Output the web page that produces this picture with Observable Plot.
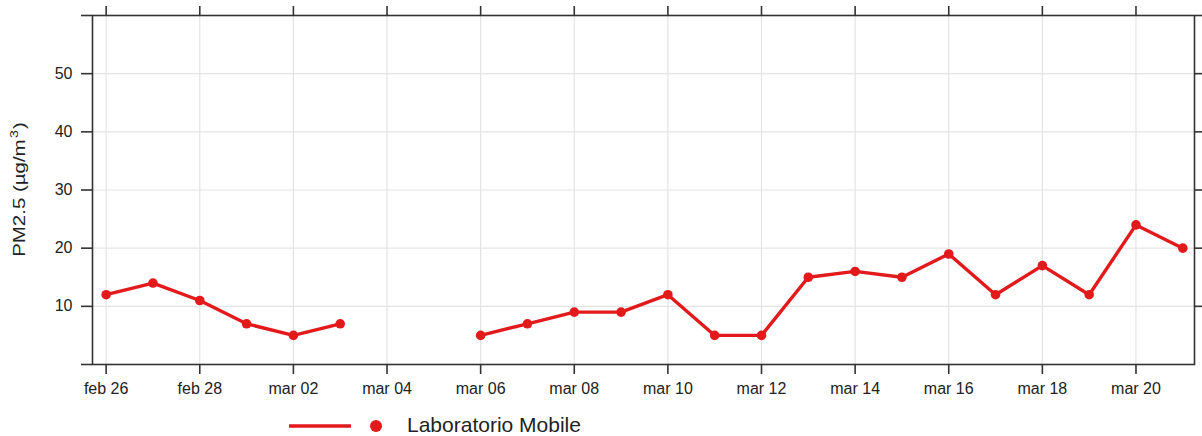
<!DOCTYPE html>
<html>
<head>
<meta charset="utf-8">
<script src="https://cdn.jsdelivr.net/npm/d3@7"></script>
<script src="https://cdn.jsdelivr.net/npm/@observablehq/plot@0.6"></script>
<style>
  html, body { margin: 0; padding: 0; background: #fff; }
  body { width: 1202px; height: 436px; overflow: hidden; font-family: "Liberation Sans", Arial, sans-serif; }
  #wrap { position: relative; width: 1202px; height: 436px; }
  #legend { position: absolute; left: 0; top: 410px; width: 1202px; height: 26px; }
  #legend svg { position: absolute; left: 280px; top: 0; }
  #legend span { position: absolute; left: 407px; top: 3px; font-size: 21px; line-height: 24px; color: #222; }
</style>
</head>
<body>
<div id="wrap"><div id="chart"></div><div id="legend"></div></div>
<script>
const dates = ["2023-02-26","2023-02-27","2023-02-28","2023-03-01","2023-03-02","2023-03-03","2023-03-04","2023-03-05","2023-03-06","2023-03-07","2023-03-08","2023-03-09","2023-03-10","2023-03-11","2023-03-12","2023-03-13","2023-03-14","2023-03-15","2023-03-16","2023-03-17","2023-03-18","2023-03-19","2023-03-20","2023-03-21"];
const pm25 = [12,14,11,7,5,7,null,null,5,7,9,9,12,5,5,15,16,15,19,12,17,12,24,20];
const xTickDates = ["2023-02-26","2023-02-28","2023-03-02","2023-03-04","2023-03-06","2023-03-08","2023-03-10","2023-03-12","2023-03-14","2023-03-16","2023-03-18","2023-03-20"];
const yTicks = [10,20,30,40,50];
const seriesName = "Laboratorio Mobile";
const yLabelMain = "PM2.5 (µg/m";
const yLabelSup = "3";
const yLabelEnd = ")";

const data = dates.map((d, i) => ({date: new Date(d + "T00:00:00Z"), value: pm25[i]}));
const pts = data.filter(d => d.value != null);
const xt = xTickDates.map(d => new Date(d + "T00:00:00Z"));
const fmt = d3.utcFormat("%b %d");
const red = "#e31a1c";
const axisCol = "#333";

const start = new Date(dates[0] + "T00:00:00Z");
const end = new Date(dates[dates.length - 1] + "T00:00:00Z");
const xDomain = [d3.utcHour.offset(start, -7), d3.utcHour.offset(end, 6)];

const plot = Plot.plot({
  width: 1202,
  height: 410,
  marginLeft: 92,
  marginRight: 8,
  marginTop: 15,
  marginBottom: 46,
  style: {fontFamily: "'Liberation Sans', Arial, sans-serif", fontSize: "16px", color: "#222", background: "#fff"},
  x: {type: "utc", domain: xDomain},
  y: {domain: [0, 60]},
  marks: [
    Plot.gridX(xt, {stroke: "#e4e4e4", strokeOpacity: 1, strokeWidth: 1.2}),
    Plot.gridY(yTicks, {stroke: "#e4e4e4", strokeOpacity: 1, strokeWidth: 1.2}),
    Plot.frame({stroke: axisCol, strokeWidth: 1.6}),
    Plot.axisX(xt, {anchor: "bottom", tickSize: 10, tickPadding: 8, tickFormat: d => fmt(d).toLowerCase(), stroke: axisCol, strokeWidth: 1.6, fill: "#222", fontSize: 16, label: null}),
    Plot.axisX(xt, {anchor: "top", tickSize: 10, tickFormat: () => "", stroke: axisCol, strokeWidth: 1.6, label: null}),
    Plot.axisY([0, ...yTicks, 60], {anchor: "left", tickSize: 11, tickPadding: 9, tickFormat: d => (d === 0 || d === 60) ? "" : d, stroke: axisCol, strokeWidth: 1.6, fill: "#222", fontSize: 16, label: null}),
    Plot.axisY([...yTicks, 60], {anchor: "right", tickSize: 8, tickFormat: () => "", stroke: axisCol, strokeWidth: 1.6, label: null}),
    Plot.line(data, {x: "date", y: "value", stroke: red, strokeWidth: 3.4, curve: "linear"}),
    Plot.dot(pts, {x: "date", y: "value", r: 4.8, fill: red, stroke: "none"})
  ]
});
document.getElementById("chart").appendChild(plot);

// y-axis title (rotated, slightly stretched along its length as in the reference)
const svg = d3.select(plot);
const midY = (15 + 364) / 2;
const t = svg.append("text")
  .attr("transform", `translate(24.5,${midY}) rotate(-90) scale(1.28,1)`)
  .attr("text-anchor", "middle")
  .attr("font-size", 16)
  .attr("fill", "#222")
  .attr("font-family", "'Liberation Sans', Arial, sans-serif");
t.append("tspan").text(yLabelMain);
t.append("tspan").attr("font-size", 11).attr("dy", -7).attr("dx", 1).text(yLabelSup);
t.append("tspan").attr("dy", 7).attr("dx", 1).text(yLabelEnd);

const legend = document.getElementById("legend");
legend.innerHTML = `<svg width="120" height="26"><line x1="9" x2="71" y1="16" y2="16" stroke="${red}" stroke-width="3.5"/><circle cx="96" cy="16" r="6" fill="${red}"/></svg><span>${seriesName}</span>`;
</script>
</body>
</html>
